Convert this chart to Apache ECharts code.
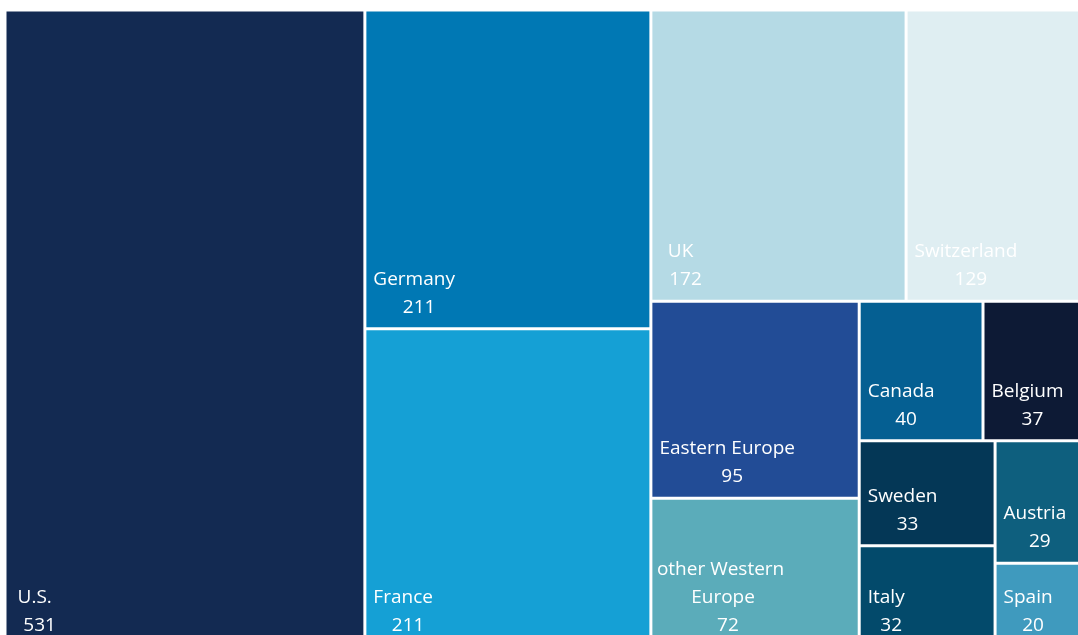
<!DOCTYPE html>
<html>
<head>
<meta charset="utf-8">
<script src="https://cdn.jsdelivr.net/npm/echarts@6/dist/echarts.min.js"></script>
<style>
  html, body { margin: 0; padding: 0; background: #fff; }
  #chart { width: 1078px; height: 635px; }
</style>
</head>
<body>
<div id="chart"></div>
<script>
// tiles (equal values are drawn last-listed first, so France comes before Germany here)
const regions = ['U.S.', 'France', 'Germany', 'UK', 'Switzerland', 'Eastern Europe',
  'other Western Europe', 'Canada', 'Belgium', 'Sweden', 'Italy', 'Austria', 'Spain'];
const values = [531, 211, 211, 172, 129, 95, 72, 40, 37, 33, 32, 29, 20];
const colors = ['#132a52', '#15a0d5', '#0078b4', '#b5dae5', '#dfeef2', '#224c96',
  '#5bacba', '#055f92', '#0d1a35', '#043756', '#034a6b', '#0e5f7e', '#3f9abe'];

const FONT_SIZE = 19;
const PAD_X = 7;     // used for wrapping
const LABEL_X = 7;   // distance of the label block from the tile's left edge
const VALUE_PREFIX = '  ';

// measure label lines so the value can sit centred under the name
const ctx = document.createElement('canvas').getContext('2d');
ctx.font = FONT_SIZE + 'px "Open Sans"';
function widestLine(text, maxW) {
  let line = '', widest = 0;
  text.split(' ').forEach(w => {
    const test = line ? line + ' ' + w : w;
    if (line && ctx.measureText(test).width > maxW) {
      widest = Math.max(widest, ctx.measureText(line).width);
      line = w;
    } else {
      line = test;
    }
  });
  return Math.max(widest, ctx.measureText(line).width);
}

function buildData(widths) {
  return regions.map((name, i) => {
    const item = { name: name, value: values[i], itemStyle: { color: colors[i] } };
    if (widths && widths[name]) {
      const w = Math.max(widestLine(name, widths[name] - 2 * PAD_X),
        ctx.measureText(VALUE_PREFIX + values[i]).width);
      item.label = { offset: [LABEL_X + w / 2, -6] };
    }
    return item;
  });
}

const chart = echarts.init(document.getElementById('chart'));
const option = {
  animation: false,
  series: [{
    type: 'treemap',
    left: 6.5,
    top: 11.5,
    width: 1089.5,
    height: 634.5,
    squareRatio: 1,
    roam: false,
    nodeClick: false,
    breadcrumb: { show: false },
    itemStyle: { borderWidth: 0, gapWidth: 3, borderColor: '#fff' },
    label: {
      show: true,
      position: 'insideBottomLeft',
      distance: 0,
      padding: [0, PAD_X, 0, PAD_X],
      align: 'center',
      formatter: p => p.name + '\n' + VALUE_PREFIX + p.value,
      fontFamily: 'Open Sans',
      fontSize: FONT_SIZE,
      lineHeight: 28,
      color: '#fff',
      overflow: 'break'
    },
    data: buildData(null)
  }]
};
chart.setOption(option);

// second pass: read tile widths from the layout, then offset labels
const list = chart.getModel().getSeriesByIndex(0).getData();
const widths = {};
for (let i = 0; i < list.count(); i++) {
  const lay = list.getItemLayout(i);
  if (lay) widths[list.getName(i)] = lay.width;
}
chart.setOption({ series: [{ data: buildData(widths) }] });
</script>
</body>
</html>
